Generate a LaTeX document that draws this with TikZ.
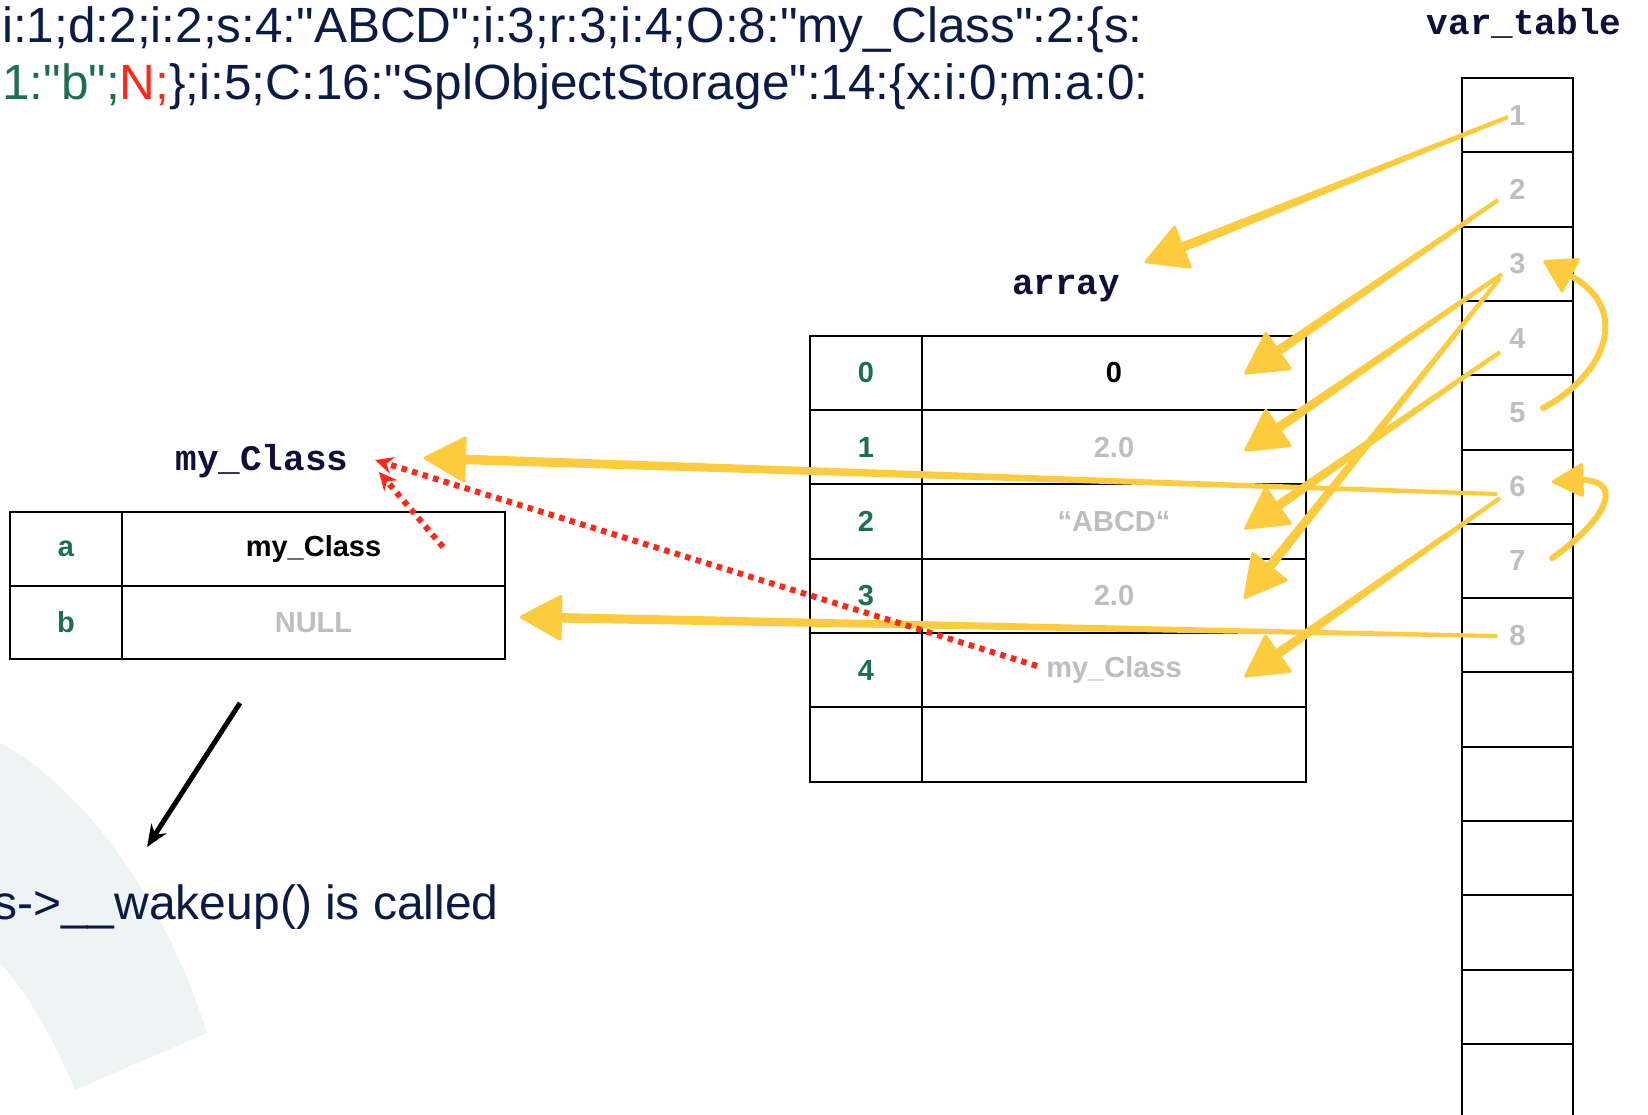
\documentclass[tikz,border=0pt]{standalone}
\usepackage{fontspec}
\setmainfont{Liberation Sans}
\setmonofont{Liberation Mono}
\usetikzlibrary{calc,arrows.meta}
\font\serf="Liberation Sans" at 49.5pt
\definecolor{navy}{RGB}{10,28,70}
\definecolor{labnavy}{RGB}{15,15,60}
\definecolor{grn}{RGB}{30,110,80}
\definecolor{gry}{RGB}{190,190,190}
\definecolor{yel}{RGB}{252,203,62}
\definecolor{redd}{RGB}{255,40,25}
\definecolor{pale}{RGB}{238,243,244}
\tikzset{
  cellbox/.style={draw=black, line width=2pt, inner sep=0pt, font=\fontsize{29}{34}\selectfont\bfseries},
  idx/.style={cellbox, text=grn, minimum width=112pt},
  lab/.style={font=\fontsize{36}{40}\selectfont\ttfamily\bfseries, text=labnavy, inner sep=0pt},
  big/.style={font=\serf, text=navy, inner sep=0pt},
  reddot/.style={draw=redd, line width=6pt, dash pattern=on 5.5pt off 5.5pt, -{Stealth[length=18pt,width=17pt]}},
  yelcurve/.style={draw=yel, line width=6pt, line cap=round}
}
\newcommand\yarrow[2]{%
  \coordinate (yb) at ($(#2)!36pt!(#1)$);
  \coordinate (yh) at ($(#2)!44pt!(#1)$);
  \fill[yel] ($(#1)!2pt!90:(#2)$) -- ($(yb)!4.8pt!-90:(#1)$) -- ($(yb)!4.8pt!90:(#1)$) -- ($(#1)!2pt!-90:(#2)$) -- cycle;
  \fill[yel, rounded corners=3pt] (#2) -- ($(yh)!24pt!90:(#1)$) -- ($(yh)!24pt!-90:(#1)$) -- cycle;
}
\begin{document}
\begin{tikzpicture}[x=1pt,y=-1pt]
\useasboundingbox (0,0) rectangle (1648,1115);
\clip (0,0) rectangle (1648,1115);

% pale background arc
\fill[pale] (0,743) .. controls (95,795) and (170,915) .. (207,1033) -- (75,1090) .. controls (55,1040) and (25,990) .. (0,963) -- cycle;

% serialized string
\node[big, anchor=base west] (ser1) at (2,43) {i:1;d:2;i:2;s:4:"ABCD";i:3;r:3;i:4;O:8:"my\_Class":2:\{s:};
\node[big, anchor=base west] (ser2) at (2,100) {{\color{grn}1:"b";}{\color{redd}N;}\};i:5;C:16:"SplObjectStorage":14:\{x:i:0;m:a:0:};

% labels
\node[lab] (vtlab) at (1524,23) {var\_table};
\node[lab] (arrlab) at (1066,289) {array};
\node[lab] (mclab) at (262,461) {my\_Class};

% var_table
\foreach \i in {1,...,14} {
  \node[cellbox, minimum width=111pt, minimum height=74.3pt] (v\i) at (1517.5,{78+74.3*(\i-0.5)}) {};
}
\foreach \i in {1,...,8} {
  \node[font=\fontsize{29}{34}\selectfont\bfseries, text=gry, inner sep=0pt] (vn\i) at (v\i.center) {\i};
}

% array table
\node[idx, minimum height=74.3pt] (ai0) at (866,373) {0};
\node[cellbox, minimum width=384pt, minimum height=74.3pt] (av0) at (1114,373) {0};
\node[idx, minimum height=74.3pt] (ai1) at (866,447.3) {1};
\node[cellbox, text=gry, minimum width=384pt, minimum height=74.3pt] (av1) at (1114,447.3) {2.0};
\node[idx, minimum height=74.3pt] (ai2) at (866,521.6) {2};
\node[cellbox, text=gry, minimum width=384pt, minimum height=74.3pt] (av2) at (1114,521.6) {“ABCD“};
\node[idx, minimum height=74.3pt] (ai3) at (866,595.9) {3};
\node[cellbox, text=gry, minimum width=384pt, minimum height=74.3pt] (av3) at (1114,595.9) {2.0};
\node[idx, minimum height=74.3pt] (ai4) at (866,670.2) {4};
\node[cellbox, text=gry, minimum width=384pt, minimum height=74.3pt] (av4) at (1114,670.2) {my\_Class};
\node[idx, minimum height=74.3pt] (ai5) at (866,744.5) {};
\node[cellbox, minimum width=384pt, minimum height=74.3pt] (av5) at (1114,744.5) {};

% my_Class table
\node[idx, minimum height=73.5pt] (ma) at (66,549) {a};
\node[cellbox, minimum width=383pt, minimum height=73.5pt] (mav) at (313.5,549) {my\_Class};
\node[idx, minimum height=73.5pt] (mb) at (66,622.5) {b};
\node[cellbox, text=gry, minimum width=383pt, minimum height=73.5pt] (mbv) at (313.5,622.5) {NULL};

% yellow arrows: start and tip coordinates
\coordinate (s1) at (1508,117);  \coordinate (t1) at (1143,263);
\coordinate (s2) at (1498,200);  \coordinate (t2) at (1243,375);
\coordinate (s3) at (1502,274);  \coordinate (t3) at (1243,452);
\coordinate (s4) at (1500,278);  \coordinate (t4) at (1243,600);
\coordinate (s5) at (1500,352);  \coordinate (t5) at (1243,530);
\coordinate (s6) at (1497,494);  \coordinate (t6) at (422,458);
\coordinate (s7) at (1500,498);  \coordinate (t7) at (1243,678);
\coordinate (s8) at (1497,636);  \coordinate (t8) at (518,617);
\yarrow{s1}{t1}
\yarrow{s2}{t2}
\yarrow{s3}{t3}
\yarrow{s4}{t4}
\yarrow{s5}{t5}
\yarrow{s6}{t6}
\yarrow{s7}{t7}
\yarrow{s8}{t8}

% curved yellow arrows
\coordinate (c5s) at (1543,408); \coordinate (c5e) at (1571,276);
\coordinate (h3t) at (1542,260); \coordinate (h3a) at (1581,258); \coordinate (h3b) at (1562,294);
\draw[yelcurve] (c5s) .. controls (1605,375) and (1632,310) .. (c5e);
\fill[yel, rounded corners=3pt] (h3t) -- (h3a) -- (h3b) -- cycle;
\coordinate (c7s) at (1552,558); \coordinate (c7e) at (1583,480);
\coordinate (h6t) at (1550,482); \coordinate (h6a) at (1583,462); \coordinate (h6b) at (1584,498);
\draw[yelcurve] (c7s) .. controls (1600,525) and (1628,482) .. (c7e);
\fill[yel, rounded corners=3pt] (h6t) -- (h6a) -- (h6b) -- cycle;

% red dotted arrows
\coordinate (r1s) at (1037,666); \coordinate (r1t) at (375,460);
\coordinate (r2s) at (443,547);  \coordinate (r2t) at (379,472);
\draw[reddot] (r1s) -- (r1t);
\draw[reddot] (r2s) -- (r2t);

% black arrow and wakeup text
\coordinate (k1) at (240,703); \coordinate (k2) at (147,847);
\draw[line width=5pt, -{Stealth[length=22pt,width=18pt]}] (k1) -- (k2);
\node[font=\fontsize{48}{56}\selectfont, text=navy, inner sep=0pt, anchor=base east] (wake) at (499,919) {s->\_\_wakeup() is called};
\end{tikzpicture}
\end{document}
